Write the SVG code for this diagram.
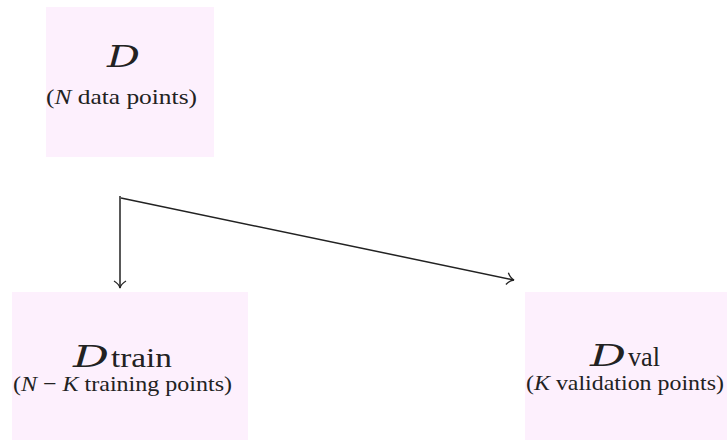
<svg xmlns="http://www.w3.org/2000/svg" width="727" height="440" viewBox="0 0 727 440">
<style>
.box{fill:#fdf0fd;stroke:none}
.cal{font-family:"DejaVu Serif","Liberation Serif",serif;font-style:italic;font-size:30px;fill:#222}
.sub{font-family:"Liberation Serif",serif;font-size:27px;fill:#222}
.lab{font-family:"Liberation Serif",serif;font-size:22px;fill:#222}
.it{font-style:italic}
.conn{stroke:#222;stroke-width:1.5;fill:none}
</style>
<defs>
<marker id="arr" markerWidth="14" markerHeight="14" refX="10" refY="7" orient="auto" markerUnits="userSpaceOnUse">
<path d="M3,1 Q6,6 10,7 Q6,8 3,13" fill="none" stroke="#222" stroke-width="1.3"/>
</marker>
</defs>
<g id="node-d">
<rect class="box" x="46" y="7" width="168" height="150"/>
<text class="cal" x="107" y="67" textLength="33" lengthAdjust="spacingAndGlyphs">D</text>
<text class="lab" x="46" y="104" textLength="151" lengthAdjust="spacingAndGlyphs">(<tspan class="it">N</tspan> data points)</text>
</g>
<g id="node-train">
<rect class="box" x="12" y="292" width="236" height="148"/>
<text class="cal" x="73" y="367" textLength="36" lengthAdjust="spacingAndGlyphs">D</text>
<text class="sub" x="111" y="367" textLength="61" lengthAdjust="spacingAndGlyphs">train</text>
<text class="lab" x="13" y="391" textLength="219" lengthAdjust="spacingAndGlyphs">(<tspan class="it">N</tspan> − <tspan class="it">K</tspan> training points)</text>
</g>
<g id="node-val">
<rect class="box" x="525" y="292" width="202" height="148"/>
<text class="cal" x="590" y="366" textLength="36" lengthAdjust="spacingAndGlyphs">D</text>
<text class="sub" x="628" y="366" textLength="32" lengthAdjust="spacingAndGlyphs">val</text>
<text class="lab" x="526" y="390" textLength="198" lengthAdjust="spacingAndGlyphs">(<tspan class="it">K</tspan> validation points)</text>
</g>
<g id="connectors">
<path class="conn" d="M120,196 L120,288" marker-end="url(#arr)"/>
<path class="conn" d="M121,198 L514,280" marker-end="url(#arr)"/>
</g>
</svg>
